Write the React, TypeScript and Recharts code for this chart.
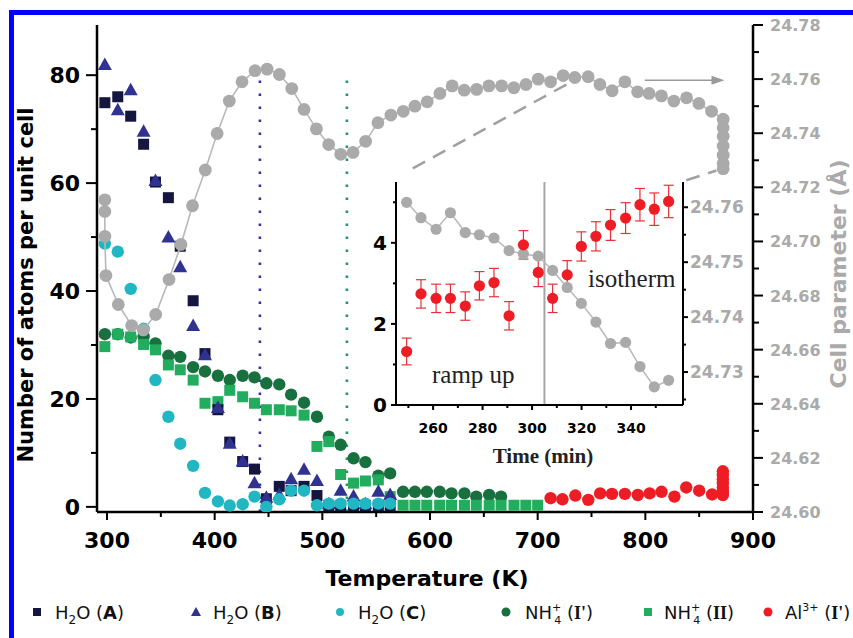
import React from 'react';
import { ComposedChart, Scatter, XAxis, YAxis, ReferenceLine, ErrorBar } from 'recharts';

// temperature grid of the refinements (K)
const temps = [298, 310, 322, 334, 345, 357, 368, 380, 391, 403, 414, 426, 437, 448, 460, 471, 483, 495, 506, 517, 529, 540, 552, 563, 575, 586, 597, 609, 620, 632, 643, 655, 666, 678, 689, 700];

const h2oA = [74.9, 76, 72.4, 67.2, 60.2, 57.3, 48.3, 38.2, 28.4, 18, 12, 8.4, 7, 1.5, 3.8, 3.0, 3.8, 2.1, 0.2, 0.2, 0.2, 0.2, 0.2, 0.2];
const h2oB = [81.9, 73.5, 77.2, 69.5, 60.4, 49.9, 44.4, 33.5, 28.1, 18.3, 11.7, 8.4, 4.4, 1.7, 2.2, 5.1, 6.9, 4.8, 0.5, 3.0, 1.9, 0.5, 2.8, 2.2];
const h2oC = [48.8, 47.3, 40.4, 33, 23.5, 16.7, 11.7, 7.6, 2.6, 1.0, 0.25, 0.5, 1.9, 0, 1.4, 3.0, 3.0, 0.3, 0.6, 0.6, 0.6, 0.6, 0.6, 0.6];
const nh4I = [32, 32, 31.4, 31.6, 30.3, 28, 27.8, 25.9, 25.1, 24.3, 23.5, 24.3, 24, 22.9, 22.7, 20.8, 19.3, 16.7, 13, 11.5, 9, 8.3, 5.8, 6.2, 2.8, 2.8, 2.8, 2.8, 2.5, 2.5, 1.9, 2.2, 1.9];
const nh4II = [29.7, 32, 31.5, 30.1, 29.1, 26.3, 25.4, 23.5, 19.2, 19.5, 21.6, 20.4, 19.2, 18, 18, 17.8, 17, 11.2, 12.1, 6.0, 4.4, 4.8, 5.0, 1.9, 0.3, 0.3, 0.3, 0.3, 0.3, 0.3, 0.3, 0.3, 0.3, 0.3, 0.3, 0.3];

const alTemps = [712, 723, 735, 747, 758, 769, 781, 793, 804, 815, 827, 838, 850, 862, 872, 872, 872, 872, 872, 872, 872];
const al = [1.6, 1.4, 2.1, 1.3, 2.5, 2.4, 2.4, 2.2, 2.5, 2.8, 1.9, 3.6, 3.0, 2.3, 2.2, 2.9, 3.6, 4.4, 5.1, 5.9, 6.6];

const cellTemps = [298, 298, 298, 299, 310.5, 322.9, 333.7, 345.2, 357.6, 368.7, 379.4, 391.3, 402.3, 413.6, 425.4, 437.5, 448.7, 460.1, 471.6, 483, 494.5, 505.9, 517.1, 528.5, 540.2, 551.6, 563.7, 575.2, 586, 597.4, 609.2, 620.6, 631.8, 643.3, 654.7, 666.5, 677.9, 689.1, 700.5, 712, 723.7, 734.5, 746.9, 757.8, 769.2, 781, 792.8, 803.5, 815, 826.5, 838.3, 849.7, 861.5, 872.3, 872.3, 872.3, 872.3, 872.3, 872.3, 872.3];
const cellParam = [24.7154, 24.7111, 24.7019, 24.6874, 24.6767, 24.6689, 24.6673, 24.673, 24.6859, 24.6989, 24.7132, 24.7264, 24.7399, 24.7519, 24.759, 24.7631, 24.7637, 24.7617, 24.7565, 24.7488, 24.7416, 24.7358, 24.7322, 24.7329, 24.737, 24.7439, 24.7467, 24.7481, 24.75, 24.7516, 24.7547, 24.7575, 24.7559, 24.7562, 24.7575, 24.7575, 24.7568, 24.758, 24.76, 24.759, 24.7613, 24.7606, 24.7609, 24.758, 24.7557, 24.759, 24.7553, 24.7547, 24.7538, 24.7519, 24.7531, 24.751, 24.7481, 24.7452, 24.742, 24.7389, 24.7353, 24.7319, 24.7288, 24.7269];

const xMajor = [300, 400, 500, 600, 700, 800, 900];
const xMinor = [350, 450, 550, 650, 750, 850];
const leftMajor = [0, 20, 40, 60, 80];
const leftMinor = [10, 30, 50, 70];
const rightMajor = [24.6, 24.62, 24.64, 24.66, 24.68, 24.7, 24.72, 24.74, 24.76, 24.78];
const rightMinor = [24.61, 24.63, 24.65, 24.67, 24.69, 24.71, 24.73, 24.75, 24.77];

// inset: isotherm at 873 K
const time = [249.3, 255.1, 261.2, 267, 273, 278.7, 284.6, 290.7, 296.5, 302.5, 308.3, 314.2, 319.9, 325.8, 331.7, 337.8, 343.6, 349.4, 355.2];
const alInset = [1.32, 2.74, 2.63, 2.63, 2.44, 2.94, 3.02, 2.2, 3.95, 3.27, 2.63, 3.21, 3.91, 4.16, 4.44, 4.61, 4.94, 4.83, 5.02];
const alErr = [0.33, 0.35, 0.35, 0.35, 0.35, 0.35, 0.35, 0.35, 0.35, 0.35, 0.35, 0.35, 0.36, 0.36, 0.38, 0.38, 0.4, 0.4, 0.4];
const cellInset = [24.7609, 24.7581, 24.756, 24.759, 24.7554, 24.755, 24.7544, 24.7521, 24.7515, 24.7511, 24.7485, 24.7454, 24.7425, 24.7391, 24.7352, 24.7354, 24.731, 24.7273, 24.7285];
const tMajor = [260, 280, 300, 320, 340];
const tMinor = [250, 270, 290, 310, 330, 350];
const inLeftMajor = [0, 2, 4];
const inLeftMinor = [1, 3, 5];
const inRightMajor = [24.73, 24.74, 24.75, 24.76];
const inRightMinor = [24.725, 24.735, 24.745, 24.755];

const pts = (xs: number[], ys: number[]) => ys.map((y, i) => ({ x: xs[i], y }));

const FONT = 'DejaVu Sans';
const GRAY = '#aaaaaa';

const circle = (fill: string, r: number) => (p: any) => <circle cx={p.cx} cy={p.cy} r={r} fill={fill} />;
const square = (fill: string, s: number) => (p: any) => <rect x={p.cx - s / 2} y={p.cy - s / 2} width={s} height={s} fill={fill} />;
const triangle = (fill: string) => (p: any) => (
  <polygon points={`${p.cx},${p.cy - 7.5} ${p.cx - 7},${p.cy + 5} ${p.cx + 7},${p.cy + 5}`} fill={fill} />
);

type TickOpt = { len: number; minLen: number; gap: number; size: number; color: string; dy: number; fmt?: (v: number) => string };

const tick = (side: 'left' | 'right' | 'bottom', minor: number[], o: TickOpt) => (props: any) => {
  const { x, y, payload } = props;
  const v = payload.value;
  const isMinor = minor.includes(v);
  const len = isMinor ? o.minLen : o.len;
  const label = o.fmt ? o.fmt(v) : String(v);
  const txt = { fontFamily: FONT, fontWeight: 'bold', fontSize: o.size, fill: o.color };
  if (side === 'bottom') {
    return (
      <g>
        <line x1={x} y1={y} x2={x} y2={y + len} stroke="#000" strokeWidth={2} />
        {!isMinor && <text x={x} y={y + o.gap} textAnchor="middle" {...txt}>{label}</text>}
      </g>
    );
  }
  const s = side === 'left' ? -1 : 1;
  return (
    <g>
      <line x1={x} y1={y} x2={x + s * len} y2={y} stroke="#000" strokeWidth={2} />
      {!isMinor && (
        <text x={x + s * o.gap} y={y + o.dy} textAnchor={side === 'left' ? 'end' : 'start'} {...txt}>{label}</text>
      )}
    </g>
  );
};

const arrowShape = (p: any) => (
  <g>
    <line x1={p.x1} y1={p.y1} x2={p.x2 - 10} y2={p.y2} stroke="#9a9a9a" strokeWidth={1.6} />
    <polygon points={`${p.x2},${p.y2} ${p.x2 - 13},${p.y2 - 4.5} ${p.x2 - 13},${p.y2 + 4.5}`} fill="#9a9a9a" />
  </g>
);

const axisLine = { stroke: '#000', strokeWidth: 2.5 };

function MainChart() {
  return (
    <ComposedChart width={853} height={638} margin={{ top: 25, right: 0, bottom: 0, left: 0 }}>
      <XAxis xAxisId="b" type="number" dataKey="x" domain={[290.7, 900]} allowDataOverflow height={126}
        ticks={[...xMajor, ...xMinor]} interval={0} tickSize={0} tickMargin={0} tickLine={false} axisLine={axisLine}
        tick={tick('bottom', xMinor, { len: 8, minLen: 5, gap: 36, size: 22, color: '#000', dy: 0 })} />
      <XAxis xAxisId="t" orientation="top" type="number" dataKey="x" domain={[290.7, 900]} height={0} tick={false} tickLine={false} axisLine={axisLine} />
      <YAxis yAxisId="left" type="number" dataKey="y" domain={[-0.95, 89.3]} allowDataOverflow width={97}
        ticks={[...leftMajor, ...leftMinor]} interval={0} tickSize={0} tickMargin={0} tickLine={false} axisLine={axisLine}
        tick={tick('left', leftMinor, { len: 11, minLen: 6, gap: 17, size: 22, color: '#000', dy: 8 })} />
      <YAxis yAxisId="right" orientation="right" type="number" dataKey="y" domain={[24.6, 24.78]} allowDataOverflow width={100}
        ticks={[...rightMajor, ...rightMinor]} interval={0} tickSize={0} tickMargin={0} tickLine={false} axisLine={axisLine}
        tick={tick('right', rightMinor, { len: 10, minLen: 6, gap: 17, size: 16, color: GRAY, dy: 6, fmt: (v) => v.toFixed(2) })} />

      <ReferenceLine xAxisId="b" yAxisId="left" segment={[{ x: 442, y: -0.95 }, { x: 442, y: 80.5 }]} stroke="#34349a" strokeWidth={2.6} strokeDasharray="2.6 10.4" />
      <ReferenceLine xAxisId="b" yAxisId="left" segment={[{ x: 522.8, y: -0.95 }, { x: 522.8, y: 80.5 }]} stroke="#1e9a62" strokeWidth={2.6} strokeDasharray="2.6 10.4" />
      <ReferenceLine xAxisId="b" yAxisId="right" segment={[{ x: 584, y: 24.727 }, { x: 735, y: 24.7598 }]} stroke="#a0a0a0" strokeWidth={2.5} strokeDasharray="14 9" />
      <ReferenceLine xAxisId="b" yAxisId="right" segment={[{ x: 838, y: 24.7226 }, { x: 866, y: 24.7262 }]} stroke="#a0a0a0" strokeWidth={2.5} strokeDasharray="14 9" />
      <ReferenceLine xAxisId="b" yAxisId="right" segment={[{ x: 799.5, y: 24.7596 }, { x: 873.5, y: 24.7596 }]} shape={arrowShape} />

      <Scatter xAxisId="b" yAxisId="left" data={pts(temps, nh4I)} shape={circle('#17703d', 6.2)} isAnimationActive={false} />
      <Scatter xAxisId="b" yAxisId="left" data={pts(temps, nh4II)} shape={square('#22ad5e', 11)} isAnimationActive={false} />
      <Scatter xAxisId="b" yAxisId="left" data={pts(temps, h2oA)} shape={square('#15163f', 11)} isAnimationActive={false} />
      <Scatter xAxisId="b" yAxisId="left" data={pts(temps, h2oB)} shape={triangle('#30328f')} isAnimationActive={false} />
      <Scatter xAxisId="b" yAxisId="left" data={pts(temps, h2oC)} shape={circle('#20b7c2', 6.2)} isAnimationActive={false} />
      <Scatter xAxisId="b" yAxisId="left" data={pts(alTemps, al)} shape={circle('#ee1c24', 6.2)} isAnimationActive={false} />
      <Scatter xAxisId="b" yAxisId="right" data={pts(cellTemps, cellParam)} shape={circle(GRAY, 6.4)}
        line={{ stroke: '#b8b8b8', strokeWidth: 1.6 }} lineType="joint" isAnimationActive={false} />
    </ComposedChart>
  );
}

function InsetChart() {
  const red = alInset.map((y, i) => ({ x: time[i], y, err: alErr[i] }));
  return (
    <ComposedChart width={430} height={300} margin={{ top: 12, right: 0, bottom: 0, left: 0 }}>
      <XAxis xAxisId="b" type="number" dataKey="x" domain={[245, 361]} allowDataOverflow height={65}
        ticks={[...tMajor, ...tMinor]} interval={0} tickSize={0} tickMargin={0} tickLine={false} axisLine={{ stroke: '#000', strokeWidth: 2 }}
        tick={tick('bottom', tMinor, { len: 5, minLen: 3, gap: 28, size: 14, color: '#000', dy: 0 })} />
      <XAxis xAxisId="t" orientation="top" type="number" dataKey="x" domain={[245, 361]} height={0} tick={false} tickLine={false} axisLine={{ stroke: '#000', strokeWidth: 2 }} />
      <YAxis yAxisId="left" type="number" dataKey="y" domain={[0, 5.5]} allowDataOverflow width={56}
        ticks={[...inLeftMajor, ...inLeftMinor]} interval={0} tickSize={0} tickMargin={0} tickLine={false} axisLine={{ stroke: '#000', strokeWidth: 2 }}
        tick={tick('left', inLeftMinor, { len: 5, minLen: 3, gap: 9, size: 20, color: '#000', dy: 7 })} />
      <YAxis yAxisId="right" orientation="right" type="number" dataKey="y" domain={[24.724, 24.7646]} allowDataOverflow width={87}
        ticks={[...inRightMajor, ...inRightMinor]} interval={0} tickSize={0} tickMargin={0} tickLine={false} axisLine={{ stroke: '#000', strokeWidth: 2 }}
        tick={tick('right', inRightMinor, { len: 5, minLen: 3, gap: 7, size: 17, color: GRAY, dy: 6, fmt: (v) => v.toFixed(2) })} />
      <ReferenceLine xAxisId="b" yAxisId="left" x={305} stroke="#a5a5a5" strokeWidth={2} />
      <Scatter xAxisId="b" yAxisId="right" data={pts(time, cellInset)} shape={circle(GRAY, 5.6)}
        line={{ stroke: '#b8b8b8', strokeWidth: 1.5 }} lineType="joint" isAnimationActive={false} />
      <Scatter xAxisId="b" yAxisId="left" data={red} shape={circle('#ee1c24', 5.6)} isAnimationActive={false}>
        <ErrorBar dataKey="err" direction="y" width={5} stroke="#e8303a" strokeWidth={1.2} />
      </Scatter>
    </ComposedChart>
  );
}

function Overlay() {
  const bold = { fontFamily: FONT, fontWeight: 'bold' as const };
  const leg = { fontFamily: FONT, fontSize: 18, fill: '#111' };
  const serifB = { fontFamily: 'Liberation Serif', fontWeight: 'bold' as const };
  return (
    <svg width={853} height={638} style={{ position: 'absolute', left: 0, top: 0, pointerEvents: 'none' }}>
      <text x={33} y={285} transform="rotate(-90 33 285)" textAnchor="middle" fontSize={21} {...bold} fill="#000">Number of atoms per unit cell</text>
      <text x={427} y={586} textAnchor="middle" fontSize={22} {...bold} fill="#000">Temperature (K)</text>
      <text x={846} y={274} transform="rotate(-90 846 274)" textAnchor="middle" fontSize={22} {...bold} fill={GRAY}>Cell parameter (Å)</text>

      <text x={432} y={383} fontFamily="Liberation Serif" fontSize={25} fill="#222">ramp up</text>
      <text x={588} y={287} fontFamily="Liberation Serif" fontSize={25} fill="#222">isotherm</text>
      <text x={543} y={463} textAnchor="middle" fontSize={21} {...serifB} fill="#222">Time (min)</text>

      {/* legend */}
      <rect x={33} y={608} width={8} height={8} fill="#15163f" />
      <text x={55} y={619} {...leg}>H<tspan dy={5} fontSize={12}>2</tspan><tspan dy={-5}>O (</tspan><tspan fontWeight="bold">A</tspan>)</text>
      <polygon points="196,607 191,616 201,616" fill="#30328f" />
      <text x={213} y={619} {...leg}>H<tspan dy={5} fontSize={12}>2</tspan><tspan dy={-5}>O (</tspan><tspan fontWeight="bold">B</tspan>)</text>
      <circle cx={340} cy={612} r={4} fill="#20b7c2" />
      <text x={358} y={619} {...leg}>H<tspan dy={5} fontSize={12}>2</tspan><tspan dy={-5}>O (</tspan><tspan fontWeight="bold">C</tspan>)</text>
      <circle cx={506} cy={612} r={4.5} fill="#17703d" />
      <text x={525} y={619} {...leg}>NH<tspan dy={-8} fontSize={11}>+</tspan><tspan dx={-7} dy={13} fontSize={11}>4</tspan><tspan dy={-5}> (</tspan><tspan {...serifB}>I'</tspan>)</text>
      <rect x={644} y={608} width={8} height={8} fill="#22ad5e" />
      <text x={664} y={619} {...leg}>NH<tspan dy={-8} fontSize={11}>+</tspan><tspan dx={-7} dy={13} fontSize={11}>4</tspan><tspan dy={-5}> (</tspan><tspan {...serifB}>II</tspan>)</text>
      <circle cx={768} cy={612} r={4.5} fill="#ee1c24" />
      <text x={785} y={619} {...leg}>Al<tspan dy={-8} fontSize={11}>3+</tspan><tspan dy={8}>  (</tspan><tspan {...serifB}>I'</tspan>)</text>
    </svg>
  );
}

export default function App() {
  return (
    <div style={{ position: 'absolute', left: 0, top: 0, width: 853, height: 638, overflow: 'hidden', background: '#fff' }}>
      <div style={{ position: 'absolute', left: 9, top: 10, width: 844, height: 5, background: '#0000ff' }} />
      <div style={{ position: 'absolute', left: 9, top: 10, width: 5, height: 628, background: '#0000ff' }} />
      <div style={{ position: 'absolute', left: 0, top: 0 }}>
        <MainChart />
      </div>
      <div style={{ position: 'absolute', left: 340, top: 170 }}>
        <InsetChart />
      </div>
      <Overlay />
    </div>
  );
}
